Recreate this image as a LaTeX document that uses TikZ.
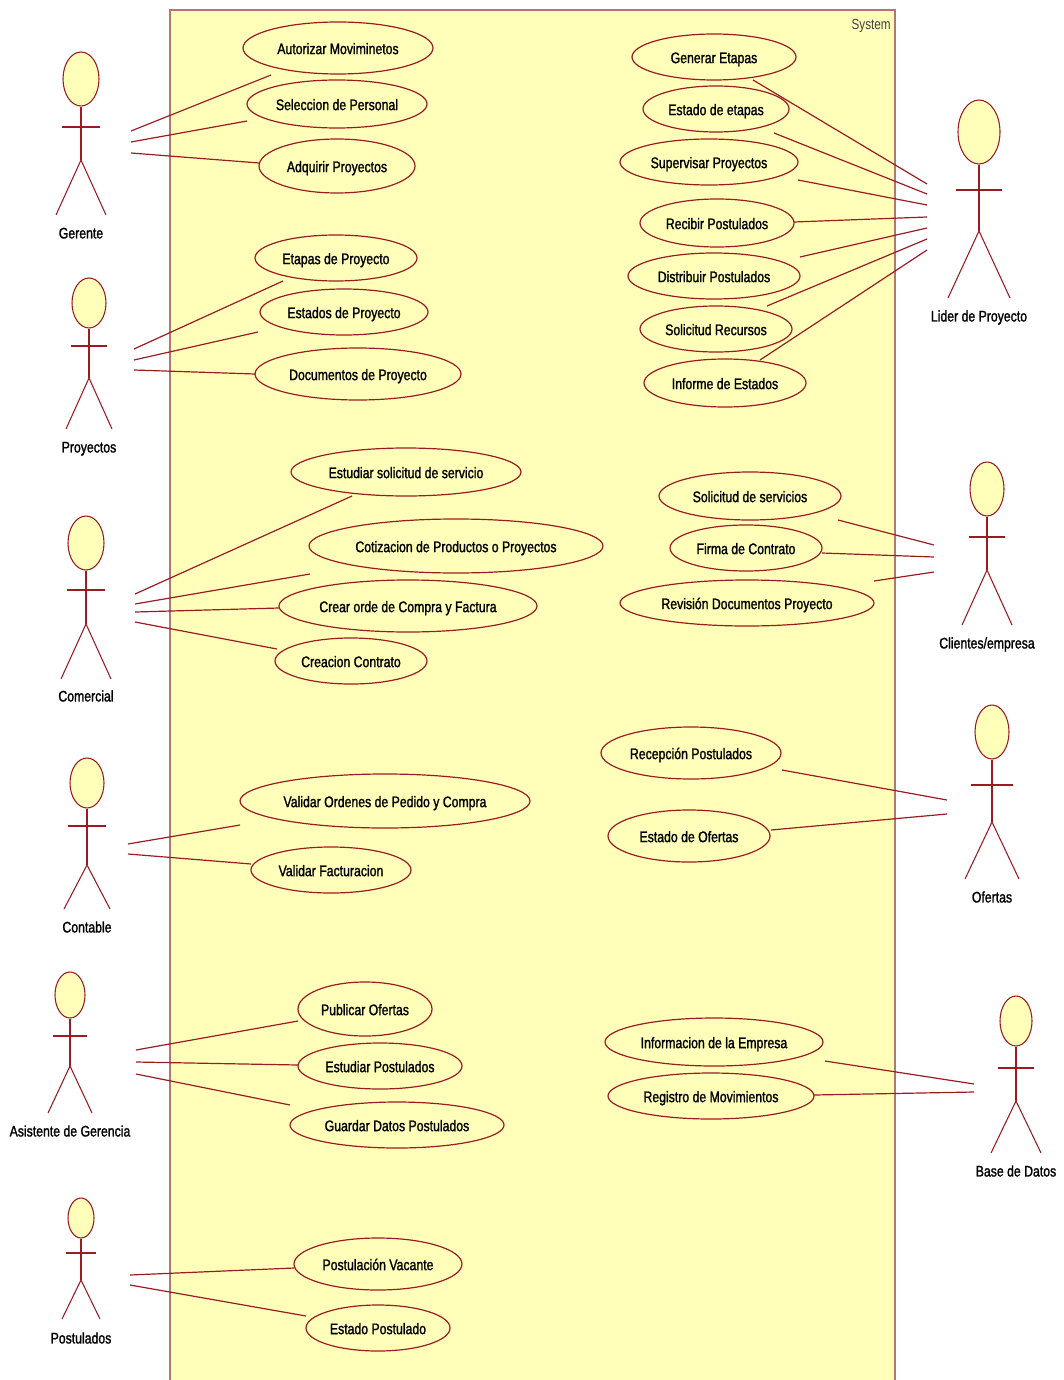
\documentclass[tikz,border=0pt]{standalone}
\usepackage{fontspec}
\setmainfont[FakeStretch=.8,FakeBold=1.4]{Liberation Sans}
\newfontfamily\plainfont[FakeStretch=.8]{Liberation Sans}
\usetikzlibrary{shapes.geometric}

\definecolor{umlred}{HTML}{9A1C22}
\definecolor{umlframe}{HTML}{BC7468}
\definecolor{umlfill}{HTML}{FFFFB9}

\tikzset{
  usecase/.style={ellipse,draw=umlred,fill=umlfill,line width=.9pt,inner sep=0pt,text height=9.8pt,text depth=.6pt,font=\fontsize{11.5}{13}\selectfont},
  head/.style={ellipse,draw=umlred,fill=umlfill,line width=.8pt,inner sep=0pt},
  limb/.style={draw=umlred,line width=.8pt},
  assoc/.style={draw=umlred,line width=.9pt},
  actorname/.style={font=\fontsize{11.5}{13}\selectfont,inner sep=0pt,text height=8.8pt,text depth=.6pt}
}

\begin{document}
\begin{tikzpicture}[x=.75pt,y=-.75pt]
    \useasboundingbox (0,0) rectangle (1063,1380);

    % system boundary
    \fill[umlfill] (170,10) rectangle (895,1380);
    \draw[umlframe,line width=1.1pt] (170,1380) -- (170,10) -- (895,10) -- (895,1380);
    \node[anchor=east,inner sep=0pt,font=\plainfont\fontsize{11}{12}\selectfont,text=black!75] (system) at (891,26) {System};

    % actors
    \foreach \name/\cx/\hy/\rx/\ry/\ay/\aw/\hip/\lw/\fy/\ly/\txt in {
      gerente/81/79/18/27/127/19/160/25/215/233/{Gerente},
      proyectos/89/303/17/25/346/18/378/23/429/447/{Proyectos},
      comercial/86/543/18/27/590/19/624/25/679/696/{Comercial},
      contable/87/783/17/25/826/19/865/23/909/927/{Contable},
      asistente/70/995/15/23/1036/17/1066/22/1113/1131/{Asistente de Gerencia},
      postulados/81/1218/13/20/1253/15/1280/19/1319/1338/{Postulados},
      lider/979/132/21/32/190/23/231/31/298/316/{Lider de Proyecto},
      clientes/987/489/17/27/537/18/570/25/625/643/{Clientes/empresa},
      ofertas/992/732/17/27/785/21/822/27/879/897/{Ofertas},
      base/1016/1021/16/25/1068/18/1101/25/1153/1171/{Base de Datos}
    }{
      \node[head,minimum width=\rx*1.5pt,minimum height=\ry*1.5pt] (\name) at (\cx,\hy) {};
      \draw[limb] (\name.south) -- (\cx,\hip);
      \draw[limb] (\cx-\aw,\ay) -- (\cx+\aw,\ay);
      \draw[limb] (\cx-\lw,\fy) -- (\cx,\hip) -- (\cx+\lw,\fy);
      \node[actorname] (\name-label) at (\cx,\ly) {\txt};
    }

    % use cases
    \foreach \name/\cx/\cy/\rx/\ry/\txt in {
      autorizar/338/48/95/26/{Autorizar Moviminetos},
      seleccion/337/104/90/24/{Seleccion de Personal},
      adquirir/337/166/78/27/{Adquirir Proyectos},
      etapasproy/336/258/81/23/{Etapas de Proyecto},
      estadosproy/344/312/84/23/{Estados de Proyecto},
      documentos/358/374/103/26/{Documentos de Proyecto},
      estudiar/406/472/115/24/{Estudiar solicitud de servicio},
      cotizacion/456/546/147/27/{Cotizacion de Productos o Proyectos},
      crear/408/606/129/26/{Crear orde de Compra y Factura},
      creacion/351/661/76/23/{Creacion Contrato},
      validarord/385/801/145/27/{Validar Ordenes de Pedido y Compra},
      validarfac/331/870/80/23/{Validar Facturacion},
      publicar/365/1009/67/27/{Publicar Ofertas},
      estudiarpos/380/1066/82/23/{Estudiar Postulados},
      guardar/397/1125/107/23/{Guardar Datos Postulados},
      postulacion/378/1264/84/26/{Postulación Vacante},
      estadopos/378/1328/72/23/{Estado Postulado},
      generar/714/57/82/23/{Generar Etapas},
      estadoetp/716/109/73/23/{Estado de etapas},
      supervisar/709/162/89/23/{Supervisar Proyectos},
      recibir/717/223/77/24/{Recibir Postulados},
      distribuir/714/276/86/23/{Distribuir Postulados},
      recursos/716/329/76/23/{Solicitud Recursos},
      informe/725/383/81/24/{Informe de Estados},
      servicios/750/496/91/24/{Solicitud de servicios},
      firma/746/548/76/23/{Firma de Contrato},
      revision/747/603/127/23/{Revisión Documentos Proyecto},
      recepcion/691/753/90/26/{Recepción Postulados},
      estadoofe/689/836/81/26/{Estado de Ofertas},
      informacion/714/1042/109/24/{Informacion de la Empresa},
      registro/711/1096/103/23/{Registro de Movimientos}
    }{
      \node[usecase,minimum width=\rx*1.5pt,minimum height=\ry*1.5pt] (\name) at (\cx,\cy) {\txt};
    }

    % associations, ends given as offsets from the node centres
    \foreach \act/\ax/\ay/\uc/\ux/\uy in {
      gerente/50/52/autorizar/-67/27,
      gerente/50/63/seleccion/-90/17,
      gerente/50/74/adquirir/-78/-3,
      proyectos/45/46/etapasproy/-53/23,
      proyectos/45/57/estadosproy/-86/20,
      proyectos/45/67/documentos/-103/0,
      comercial/49/51/estudiar/-54/24,
      comercial/49/61/cotizacion/-146/28,
      comercial/49/69/crear/-129/2,
      comercial/49/79/creacion/-74/-12,
      contable/41/61/validarord/-145/24,
      contable/41/71/validarfac/-80/-6,
      asistente/66/55/publicar/-67/12,
      asistente/66/67/estudiarpos/-82/-1,
      asistente/66/79/guardar/-107/-20,
      postulados/49/57/postulacion/-84/4,
      postulados/49/67/estadopos/-72/-12,
      lider/-52/52/generar/39/23,
      lider/-52/62/estadoetp/58/24,
      lider/-52/73/supervisar/89/18,
      lider/-52/85/recibir/77/-1,
      lider/-52/96/distribuir/86/-19,
      lider/-52/107/recursos/51/-23,
      lider/-52/118/informe/35/-23,
      clientes/-53/56/servicios/88/24,
      clientes/-53/68/firma/76/5,
      clientes/-53/83/revision/127/-22,
      ofertas/-45/68/recepcion/91/17,
      ofertas/-45/82/estadoofe/82/-6,
      base/-42/63/informacion/111/19,
      base/-42/71/registro/103/-1
    }{
      \draw[assoc] ([shift={(\ax,\ay)}]\act.center) -- ([shift={(\ux,\uy)}]\uc.center);
    }
\end{tikzpicture}
\end{document}
